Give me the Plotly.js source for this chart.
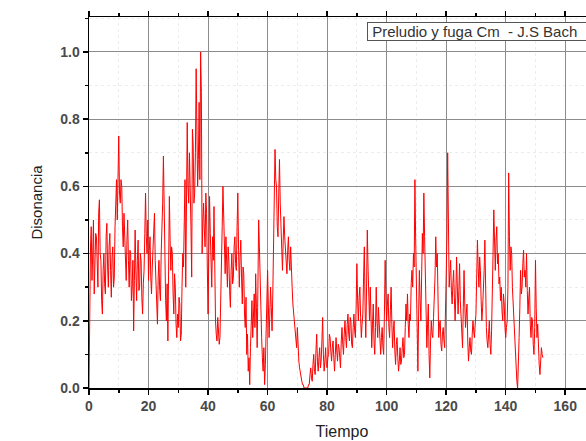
<!DOCTYPE html>
<html>
<head>
<meta charset="utf-8">
<script src="https://cdn.plot.ly/plotly-3.0.1.min.js"></script>
<style>
html,body{margin:0;padding:0;overflow:hidden;background:#fff;}
#chart{width:600px;height:441px;}
</style>
</head>
<body>
<div id="chart"></div>
<script>
// Sampling step of the time axis (Tiempo)
const timeStart = 0;
const timeStep = 0.25;

// Disonancia values, one row per 5 time units
const disonancia = [
  0.00,0.30,0.42,0.48,0.32,0.40,0.50,0.28,0.36,0.46,0.45,0.34,0.30,0.52,0.56,0.40,0.38,0.26,0.22,0.35,
  0.40,0.31,0.28,0.45,0.49,0.36,0.30,0.42,0.46,0.35,0.27,0.39,0.42,0.30,0.33,0.48,0.55,0.62,0.50,0.66,
  0.75,0.58,0.55,0.62,0.60,0.48,0.42,0.52,0.45,0.36,0.32,0.44,0.50,0.38,0.30,0.41,0.40,0.26,0.30,0.38,
  0.17,0.32,0.47,0.35,0.26,0.38,0.44,0.29,0.30,0.40,0.38,0.27,0.22,0.31,0.35,0.46,0.58,0.45,0.40,0.50,
  0.32,0.41,0.45,0.33,0.28,0.36,0.40,0.47,0.52,0.38,0.30,0.24,0.19,0.33,0.38,0.29,0.26,0.40,0.45,0.55,
  0.69,0.48,0.35,0.26,0.20,0.31,0.14,0.40,0.57,0.44,0.35,0.42,0.40,0.28,0.22,0.34,0.30,0.19,0.15,0.22,
  0.18,0.27,0.25,0.14,0.16,0.30,0.40,0.36,0.50,0.62,0.30,0.58,0.79,0.60,0.55,0.70,0.62,0.48,0.33,0.77,
  0.72,0.55,0.58,0.70,0.95,0.75,0.60,0.68,0.85,0.62,1.00,0.88,0.40,0.50,0.55,0.47,0.42,0.58,0.52,0.36,
  0.22,0.40,0.57,0.46,0.35,0.30,0.45,0.38,0.54,0.33,0.20,0.16,0.14,0.21,0.18,0.13,0.15,0.24,0.35,0.48,
  0.60,0.47,0.40,0.34,0.45,0.38,0.30,0.42,0.38,0.29,0.24,0.35,0.40,0.31,0.33,0.42,0.45,0.37,0.35,0.48,
  0.58,0.41,0.30,0.39,0.44,0.33,0.25,0.36,0.34,0.22,0.18,0.27,0.10,0.16,0.05,0.09,0.01,0.12,0.20,0.26,
  0.15,0.22,0.28,0.18,0.34,0.24,0.12,0.30,0.50,0.42,0.30,0.24,0.15,0.09,0.05,0.12,0.01,0.07,0.18,0.27,
  0.35,0.25,0.15,0.22,0.30,0.24,0.17,0.28,0.40,0.55,0.71,0.62,0.60,0.48,0.45,0.58,0.68,0.55,0.50,0.42,
  0.35,0.44,0.51,0.45,0.40,0.36,0.34,0.41,0.45,0.38,0.35,0.42,0.38,0.30,0.25,0.22,0.20,0.17,0.15,0.12,
  0.18,0.11,0.08,0.06,0.04,0.03,0.02,0.01,0.01,0.00,0.00,0.00,0.00,0.00,0.00,0.01,0.01,0.04,0.06,0.03,
  0.02,0.07,0.10,0.05,0.04,0.11,0.16,0.08,0.05,0.09,0.12,0.06,0.08,0.14,0.21,0.10,0.05,0.08,0.12,0.07,
  0.06,0.09,0.10,0.16,0.15,0.11,0.08,0.12,0.14,0.09,0.05,0.10,0.15,0.11,0.08,0.13,0.12,0.09,0.06,0.14,
  0.18,0.13,0.10,0.16,0.20,0.15,0.12,0.19,0.22,0.16,0.14,0.21,0.20,0.13,0.12,0.18,0.22,0.17,0.15,0.24,
  0.37,0.26,0.20,0.27,0.30,0.21,0.15,0.19,0.22,0.33,0.42,0.24,0.15,0.30,0.47,0.36,0.25,0.20,0.30,0.22,
  0.12,0.19,0.25,0.14,0.10,0.18,0.30,0.20,0.15,0.24,0.20,0.13,0.10,0.15,0.18,0.12,0.10,0.22,0.38,0.27,
  0.20,0.25,0.28,0.18,0.15,0.23,0.30,0.19,0.12,0.17,0.20,0.11,0.07,0.13,0.15,0.09,0.05,0.08,0.12,0.07,
  0.08,0.12,0.15,0.09,0.10,0.18,0.25,0.20,0.28,0.19,0.15,0.22,0.20,0.31,0.35,0.30,0.40,0.36,0.62,0.44,
  0.30,0.15,0.05,0.22,0.35,0.26,0.20,0.33,0.46,0.40,0.58,0.45,0.30,0.20,0.12,0.19,0.25,0.10,0.03,0.14,
  0.20,0.16,0.15,0.21,0.25,0.33,0.45,0.36,0.40,0.24,0.15,0.19,0.20,0.13,0.11,0.16,0.18,0.14,0.12,0.22,
  0.30,0.45,0.70,0.42,0.30,0.34,0.38,0.29,0.25,0.31,0.35,0.27,0.20,0.28,0.39,0.30,0.22,0.29,0.37,0.26,
  0.20,0.15,0.12,0.24,0.35,0.25,0.18,0.22,0.25,0.14,0.08,0.12,0.15,0.11,0.10,0.16,0.20,0.17,0.15,0.19,
  0.22,0.33,0.44,0.36,0.30,0.39,0.35,0.26,0.20,0.24,0.28,0.35,0.44,0.27,0.18,0.14,0.12,0.16,0.20,0.13,
  0.10,0.17,0.25,0.40,0.53,0.42,0.35,0.44,0.48,0.37,0.40,0.31,0.33,0.26,0.30,0.23,0.20,0.28,0.25,0.18,
  0.15,0.18,0.20,0.30,0.64,0.45,0.35,0.42,0.40,0.30,0.25,0.20,0.15,0.09,0.05,0.02,0.00,0.06,0.15,0.24,
  0.35,0.28,0.30,0.37,0.41,0.33,0.35,0.30,0.40,0.29,0.22,0.27,0.30,0.19,0.15,0.21,0.20,0.13,0.10,0.18,
  0.38,0.24,0.15,0.19,0.10,0.07,0.04,0.08,0.12,0.10,0.09
];

const xTickVals = [0,20,40,60,80,100,120,140,160];
const yTickVals = [0.0,0.2,0.4,0.6,0.8,1.0];
const legendLabel = 'Preludio y fuga Cm  - J.S Bach';
const xTitle = 'Tiempo';
const yTitle = 'Disonancia';

const tiempo = disonancia.map((_, i) => timeStart + i * timeStep);

const trace = {
  x: tiempo,
  y: disonancia,
  type: 'scatter',
  mode: 'lines',
  line: {color: '#ff0000', width: 1},
  hoverinfo: 'skip',
  showlegend: false
};

const tickFont = {family: 'Liberation Sans, Arial, sans-serif', size: 14, color: '#4a4a4a', weight: 'bold'};

const layout = {
  width: 600,
  height: 441,
  margin: {l: 89, r: 5, t: 17, b: 53},
  paper_bgcolor: '#ffffff',
  plot_bgcolor: '#ffffff',
  showlegend: false,
  xaxis: {
    range: [0, 170],
    tickvals: xTickVals,
    ticks: 'outside',
    ticklen: 5,
    tickwidth: 1.5,
    tickcolor: '#000',
    showline: true,
    linecolor: '#000',
    linewidth: 1.5,
    mirror: 'ticks',
    showgrid: true,
    gridcolor: '#8c8c8c',
    gridwidth: 1,
    zeroline: false,
    tickfont: tickFont,
    minor: {dtick: 10, tick0: 0, ticks: 'outside', ticklen: 3, tickcolor: '#000', showgrid: true, gridcolor: '#ececec', griddash: 'dot', gridwidth: 1},
    title: {text: xTitle, font: {family: 'Liberation Sans, Arial, sans-serif', size: 16, color: '#222'}, standoff: 12}
  },
  yaxis: {
    range: [0, 1.104],
    tickvals: yTickVals,
    tickformat: '.1f',
    ticks: 'outside',
    ticklen: 5,
    tickwidth: 1.5,
    tickcolor: '#000',
    showline: true,
    linecolor: '#000',
    linewidth: 1.5,
    mirror: 'ticks',
    showgrid: true,
    gridcolor: '#8c8c8c',
    gridwidth: 1,
    zeroline: false,
    tickfont: tickFont,
    minor: {dtick: 0.1, tick0: 0, ticks: 'outside', ticklen: 3, tickcolor: '#000', showgrid: true, gridcolor: '#ececec', griddash: 'dot', gridwidth: 1},
    title: {text: yTitle, font: {family: 'Liberation Sans, Arial, sans-serif', size: 15, color: '#222'}, standoff: 14}
  },
  annotations: [{
    xref: 'paper', yref: 'paper',
    x: 0.549, y: 0.9865,
    xanchor: 'left', yanchor: 'top',
    text: '&nbsp;' + legendLabel,
    width: 240,
    align: 'left',
    showarrow: false,
    font: {family: 'Liberation Sans, Arial, sans-serif', size: 15, color: '#333'},
    bgcolor: '#ffffff',
    bordercolor: '#555',
    borderwidth: 1,
    borderpad: 0
  }]
};

Plotly.newPlot('chart', [trace], layout, {staticPlot: true, displayModeBar: false});
</script>
</body>
</html>
